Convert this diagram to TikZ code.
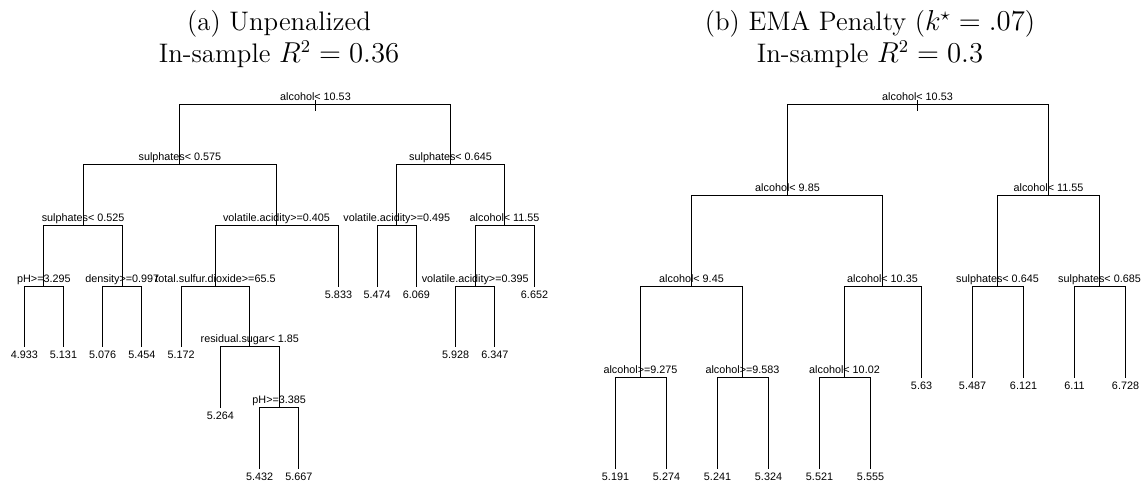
\documentclass[tikz,border=0pt]{standalone}
\usepackage{fontspec}
\newfontfamily\treefont{Liberation Sans}
\begin{document}
\begin{tikzpicture}[x=0.5pt,y=-0.5pt,
  branch/.style={line width=0.5pt,black},
  splitlab/.style={font=\treefont\fontsize{5.4}{6}\selectfont,inner sep=0pt,anchor=base,yshift=1.8pt},
  leaflab/.style={font=\treefont\fontsize{5.4}{6}\selectfont,inner sep=0pt,anchor=base,yshift=-6.1pt},
  ttl/.style={font=\fontsize{13.4}{16}\selectfont,inner sep=0pt,anchor=base}]
\useasboundingbox (0,0) rectangle (1141,481);

% ---------- titles ----------
\node[ttl] (ta1) at (279,31) {(a) Unpenalized};
\node[ttl] (ta2) at (279,62.5) {In-sample $R^2=0.36$};
\node[ttl] (tb1) at (870,31) {(b) EMA Penalty ($k^{\star}=.07$)};
\node[ttl] (tb2) at (870,62.5) {In-sample $R^2=0.3$};

% ---------- tree (a): split points ----------
\coordinate (a0)  at (315.5,104.5);
\coordinate (a1)  at (179.9,164.5);
\coordinate (a2)  at (450.5,164.5);
\coordinate (a3)  at (83.1,225.5);
\coordinate (a4)  at (276.5,225.5);
\coordinate (a5)  at (396.8,225.5);
\coordinate (a6)  at (504.6,225.5);
\coordinate (a7)  at (43.9,286.5);
\coordinate (a8)  at (122.3,286.5);
\coordinate (a9)  at (215.5,286.5);
\coordinate (a10) at (475.2,286.5);
\coordinate (a11) at (249.8,346.5);
\coordinate (a12) at (279.2,407.5);
% leaves
\coordinate (la0)  at (24.3,346.5);
\coordinate (la1)  at (63.5,346.5);
\coordinate (la2)  at (102.7,346.5);
\coordinate (la3)  at (141.9,346.5);
\coordinate (la4)  at (181.1,346.5);
\coordinate (la5)  at (220.4,407.5);
\coordinate (la6)  at (259.6,468.5);
\coordinate (la7)  at (298.8,468.5);
\coordinate (la8)  at (338.5,286.5);
\coordinate (la9)  at (377.2,286.5);
\coordinate (la10) at (416.4,286.5);
\coordinate (la11) at (455.6,346.5);
\coordinate (la12) at (494.8,346.5);
\coordinate (la13) at (534.5,286.5);
% root tick
\coordinate (a0t) at (315.5,100);
\coordinate (a0b) at (315.5,110.7);

% branches
\draw[branch] (a0t) -- (a0b);
\draw[branch] (a0) -| (a1);   \draw[branch] (a0) -| (a2);
\draw[branch] (a1) -| (a3);   \draw[branch] (a1) -| (a4);
\draw[branch] (a2) -| (a5);   \draw[branch] (a2) -| (a6);
\draw[branch] (a3) -| (a7);   \draw[branch] (a3) -| (a8);
\draw[branch] (a7) -| (la0);  \draw[branch] (a7) -| (la1);
\draw[branch] (a8) -| (la2);  \draw[branch] (a8) -| (la3);
\draw[branch] (a4) -| (a9);   \draw[branch] (a4) -| (la8);
\draw[branch] (a9) -| (la4);  \draw[branch] (a9) -| (a11);
\draw[branch] (a11) -| (la5); \draw[branch] (a11) -| (a12);
\draw[branch] (a12) -| (la6); \draw[branch] (a12) -| (la7);
\draw[branch] (a5) -| (la9);  \draw[branch] (a5) -| (la10);
\draw[branch] (a6) -| (a10);  \draw[branch] (a6) -| (la13);
\draw[branch] (a10) -| (la11); \draw[branch] (a10) -| (la12);

% split labels
\node[splitlab] (sa0)  at (a0)  {alcohol< 10.53};
\node[splitlab] (sa1)  at (a1)  {sulphates< 0.575};
\node[splitlab] (sa2)  at (a2)  {sulphates< 0.645};
\node[splitlab] (sa3)  at (a3)  {sulphates< 0.525};
\node[splitlab] (sa4)  at (a4)  {volatile.acidity>=0.405};
\node[splitlab] (sa5)  at (a5)  {volatile.acidity>=0.495};
\node[splitlab] (sa6)  at (a6)  {alcohol< 11.55};
\node[splitlab] (sa7)  at (a7)  {pH>=3.295};
\node[splitlab] (sa8)  at (a8)  {density>=0.997};
\node[splitlab] (sa9)  at (a9)  {total.sulfur.dioxide>=65.5};
\node[splitlab] (sa10) at (a10) {volatile.acidity>=0.395};
\node[splitlab] (sa11) at (a11) {residual.sugar< 1.85};
\node[splitlab] (sa12) at (a12) {pH>=3.385};
% leaf labels
\node[leaflab] (va0)  at (la0)  {4.933};
\node[leaflab] (va1)  at (la1)  {5.131};
\node[leaflab] (va2)  at (la2)  {5.076};
\node[leaflab] (va3)  at (la3)  {5.454};
\node[leaflab] (va4)  at (la4)  {5.172};
\node[leaflab] (va5)  at (la5)  {5.264};
\node[leaflab] (va6)  at (la6)  {5.432};
\node[leaflab] (va7)  at (la7)  {5.667};
\node[leaflab] (va8)  at (la8)  {5.833};
\node[leaflab] (va9)  at (la9)  {5.474};
\node[leaflab] (va10) at (la10) {6.069};
\node[leaflab] (va11) at (la11) {5.928};
\node[leaflab] (va12) at (la12) {6.347};
\node[leaflab] (va13) at (la13) {6.652};

% ---------- tree (b): split points ----------
\coordinate (b0) at (917.5,104.5);
\coordinate (b1) at (787.5,195.5);
\coordinate (b2) at (1048.5,195.5);
\coordinate (b3) at (691.5,286.5);
\coordinate (b4) at (882.5,286.5);
\coordinate (b8) at (997.5,286.5);
\coordinate (b9) at (1099.5,286.5);
\coordinate (b5) at (640.5,377.5);
\coordinate (b6) at (742.5,377.5);
\coordinate (b7) at (844.5,377.5);
% leaves
\coordinate (lb0)  at (615.5,468.5);
\coordinate (lb1)  at (666.5,468.5);
\coordinate (lb2)  at (717.5,468.5);
\coordinate (lb3)  at (768.5,468.5);
\coordinate (lb4)  at (819.5,468.5);
\coordinate (lb5)  at (870.5,468.5);
\coordinate (lb6)  at (921.5,377.5);
\coordinate (lb7)  at (972.5,377.5);
\coordinate (lb8)  at (1023.5,377.5);
\coordinate (lb9)  at (1074.5,377.5);
\coordinate (lb10) at (1125.5,377.5);
% root tick
\coordinate (b0t) at (917.5,100);
\coordinate (b0b) at (917.5,110.7);

% branches
\draw[branch] (b0t) -- (b0b);
\draw[branch] (b0) -| (b1);  \draw[branch] (b0) -| (b2);
\draw[branch] (b1) -| (b3);  \draw[branch] (b1) -| (b4);
\draw[branch] (b3) -| (b5);  \draw[branch] (b3) -| (b6);
\draw[branch] (b4) -| (b7);  \draw[branch] (b4) -| (lb6);
\draw[branch] (b5) -| (lb0); \draw[branch] (b5) -| (lb1);
\draw[branch] (b6) -| (lb2); \draw[branch] (b6) -| (lb3);
\draw[branch] (b7) -| (lb4); \draw[branch] (b7) -| (lb5);
\draw[branch] (b2) -| (b8);  \draw[branch] (b2) -| (b9);
\draw[branch] (b8) -| (lb7); \draw[branch] (b8) -| (lb8);
\draw[branch] (b9) -| (lb9); \draw[branch] (b9) -| (lb10);

% split labels
\node[splitlab] (sb0) at (b0) {alcohol< 10.53};
\node[splitlab] (sb1) at (b1) {alcohol< 9.85};
\node[splitlab] (sb2) at (b2) {alcohol< 11.55};
\node[splitlab] (sb3) at (b3) {alcohol< 9.45};
\node[splitlab] (sb4) at (b4) {alcohol< 10.35};
\node[splitlab] (sb5) at (b5) {alcohol>=9.275};
\node[splitlab] (sb6) at (b6) {alcohol>=9.583};
\node[splitlab] (sb7) at (b7) {alcohol< 10.02};
\node[splitlab] (sb8) at (b8) {sulphates< 0.645};
\node[splitlab] (sb9) at (b9) {sulphates< 0.685};
% leaf labels
\node[leaflab] (vb0)  at (lb0)  {5.191};
\node[leaflab] (vb1)  at (lb1)  {5.274};
\node[leaflab] (vb2)  at (lb2)  {5.241};
\node[leaflab] (vb3)  at (lb3)  {5.324};
\node[leaflab] (vb4)  at (lb4)  {5.521};
\node[leaflab] (vb5)  at (lb5)  {5.555};
\node[leaflab] (vb6)  at (lb6)  {5.63};
\node[leaflab] (vb7)  at (lb7)  {5.487};
\node[leaflab] (vb8)  at (lb8)  {6.121};
\node[leaflab] (vb9)  at (lb9)  {6.11};
\node[leaflab] (vb10) at (lb10) {6.728};
\end{tikzpicture}
\end{document}
